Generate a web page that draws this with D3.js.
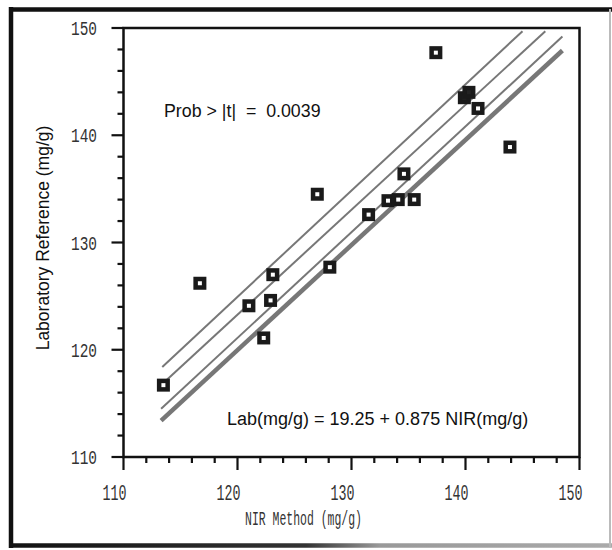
<!DOCTYPE html>
<html>
<head>
<meta charset="utf-8">
<script src="https://cdn.jsdelivr.net/npm/d3@7"></script>
<style>
  html, body { margin: 0; padding: 0; background: #fff; }
  svg { display: block; }
</style>
</head>
<body>
<svg id="chart" width="612" height="550"></svg>
<script>
// NIR prediction vs laboratory reference, one entry per sample (mg/g)
const nir = [113.5, 116.7, 121.0, 122.3, 122.9, 123.1, 127.0, 128.1, 131.5,
             133.2, 134.1, 134.6, 135.5, 137.4, 139.9, 140.3, 141.1, 143.9];
const lab = [116.7, 126.2, 124.1, 121.1, 124.6, 127.0, 134.5, 127.7, 132.6,
             133.9, 134.0, 136.4, 134.0, 147.7, 143.5, 144.0, 142.5, 138.9];
// samples (1-based) whose markers print solid
const filledSamples = [15, 16];

// reference lines: upper limit, mean bias, lower limit, line of identity
const lineNames = ["upper", "bias", "lower", "identity"];
const lineX0 = [113.4, 113.4, 113.3, 113.3];
const lineY0 = [118.4, 116.8, 114.5, 113.4];
const lineX1 = [145.0, 147.0, 148.5, 148.5];
const lineY1 = [149.7, 149.7, 149.2, 147.9];

// axis ticks
const xTicks = [110, 120, 130, 140, 150];
const yTicks = [110, 120, 130, 140, 150];
const minorStep = 2;

// annotations
const probText = "Prob > |t|  =  0.0039";
const fitIntercept = 19.25;
const fitSlope = 0.875;
const xTitle = "NIR Method (mg/g)";
const yTitle = "Laboratory Reference (mg/g)";

const svg = d3.select("#chart");

const plot = { left: 123.5, right: 579.5, top: 28, bottom: 457 };
const x = d3.scaleLinear().domain([110, 150]).range([plot.left, plot.right]);
const y = d3.scaleLinear().domain([110, 150]).range([plot.bottom, plot.top]);

// page frame
const defs = svg.append("defs");
const grad = defs.append("linearGradient").attr("id", "bottomEdge")
  .attr("gradientUnits", "userSpaceOnUse")
  .attr("x1", 0).attr("x2", 612).attr("y1", 0).attr("y2", 0);
grad.append("stop").attr("offset", "0").attr("stop-color", "#111");
grad.append("stop").attr("offset", "0.5").attr("stop-color", "#333");
grad.append("stop").attr("offset", "0.62").attr("stop-color", "#999");
grad.append("stop").attr("offset", "1").attr("stop-color", "#aaa");
const frame = svg.append("g");
frame.append("line").attr("x1", 9).attr("x2", 612).attr("y1", 9.5).attr("y2", 9.5)
  .attr("stroke", "#111").attr("stroke-width", 4.5);
frame.append("line").attr("x1", 11).attr("x2", 11).attr("y1", 7).attr("y2", 548)
  .attr("stroke", "#111").attr("stroke-width", 4.5);
frame.append("line").attr("x1", 9).attr("x2", 612).attr("y1", 545.5).attr("y2", 545.5)
  .attr("stroke", "url(#bottomEdge)").attr("stroke-width", 4.5);
frame.append("line").attr("x1", 610).attr("x2", 610).attr("y1", 9).attr("y2", 548)
  .attr("stroke", "#bbb").attr("stroke-width", 2);

// tick marks: majors at the labelled values, minors every two units
const minorTicks = d3.range(110, 150 + 0.001, minorStep).filter(v => !xTicks.includes(v));
const tickColor = "#111";
const ticks = svg.append("g").attr("stroke", tickColor).attr("stroke-width", 2.2);
ticks.selectAll("line.xmaj").data(xTicks).join("line").attr("class", "xmaj")
  .attr("x1", d => x(d)).attr("x2", d => x(d))
  .attr("y1", plot.bottom).attr("y2", plot.bottom + 13);
ticks.selectAll("line.xmin").data(minorTicks).join("line").attr("class", "xmin")
  .attr("x1", d => x(d)).attr("x2", d => x(d))
  .attr("y1", plot.bottom).attr("y2", plot.bottom + 6);
ticks.selectAll("line.ymaj").data(yTicks).join("line").attr("class", "ymaj")
  .attr("y1", d => y(d)).attr("y2", d => y(d))
  .attr("x1", plot.left).attr("x2", plot.left - 12);
ticks.selectAll("line.ymin").data(minorTicks).join("line").attr("class", "ymin")
  .attr("y1", d => y(d)).attr("y2", d => y(d))
  .attr("x1", plot.left).attr("x2", plot.left - 6);

// plot border
svg.append("rect")
  .attr("x", plot.left).attr("y", plot.top)
  .attr("width", plot.right - plot.left).attr("height", plot.bottom - plot.top)
  .attr("fill", "none").attr("stroke", "#111").attr("stroke-width", 2.5);

// tick labels in a narrow plotter-style face
const tickFont = "'Liberation Mono', 'DejaVu Sans Mono', monospace";
svg.append("g").selectAll("text").data(xTicks).join("text")
  .attr("x", d => x(d) + 3).attr("y", 500)
  .attr("text-anchor", "end")
  .attr("font-family", tickFont).attr("font-size", 22)
  .attr("textLength", 24).attr("lengthAdjust", "spacingAndGlyphs")
  .attr("fill", "#333")
  .text(d => d);
svg.append("g").selectAll("text").data(yTicks).join("text")
  .attr("x", 97).attr("y", d => y(d) + 7)
  .attr("text-anchor", "end")
  .attr("font-family", tickFont).attr("font-size", 20)
  .attr("textLength", 26).attr("lengthAdjust", "spacingAndGlyphs")
  .attr("fill", "#333")
  .text(d => d);

// axis titles
svg.append("text")
  .attr("x", 245).attr("y", 525)
  .attr("font-family", tickFont).attr("font-size", 21)
  .attr("textLength", 117).attr("lengthAdjust", "spacingAndGlyphs")
  .attr("fill", "#333")
  .text(xTitle);
svg.append("text")
  .attr("transform", "translate(49,238) rotate(-90)")
  .attr("text-anchor", "middle")
  .attr("font-family", "'Liberation Sans', Arial, sans-serif").attr("font-size", 17.5)
  .attr("fill", "#111")
  .text(yTitle);

// reference lines
const lineWidths = { upper: 2, bias: 2, lower: 2, identity: 4.5 };
const refLines = lineNames.map((name, i) => ({
  name, x0: lineX0[i], y0: lineY0[i], x1: lineX1[i], y1: lineY1[i]
}));
svg.append("g").selectAll("line").data(refLines).join("line")
  .attr("x1", d => x(d.x0)).attr("y1", d => y(d.y0))
  .attr("x2", d => x(d.x1)).attr("y2", d => y(d.y1))
  .attr("stroke", "#777")
  .attr("stroke-width", d => lineWidths[d.name]);

// sample markers
const samples = nir.map((v, i) => ({ id: i + 1, nir: v, lab: lab[i] }));
const markerSide = 8.5;
svg.append("g").selectAll("rect").data(samples).join("rect")
  .attr("x", d => x(d.nir) - markerSide / 2)
  .attr("y", d => y(d.lab) - markerSide / 2)
  .attr("width", markerSide).attr("height", markerSide)
  .attr("fill", d => filledSamples.includes(d.id) ? "#222" : "#fff")
  .attr("stroke", "#1a1a1a").attr("stroke-width", 4.5);

// annotations
svg.append("text")
  .attr("x", 164).attr("y", 117)
  .attr("font-family", "'Liberation Sans', Arial, sans-serif").attr("font-size", 17.8)
  .attr("fill", "#111")
  .style("white-space", "pre")
  .text(probText);
svg.append("text")
  .attr("x", 227).attr("y", 425)
  .attr("font-family", "'Liberation Sans', Arial, sans-serif").attr("font-size", 18)
  .attr("fill", "#111")
  .text(`Lab(mg/g) = ${fitIntercept} + ${fitSlope} NIR(mg/g)`);

// settle layout once everything is in place
document.querySelectorAll("#chart line").forEach(el => el.getBBox());
document.elementFromPoint(plot.left, plot.bottom + 8);
document.elementFromPoint(plot.left - 8, y(130));
</script>
</body>
</html>
